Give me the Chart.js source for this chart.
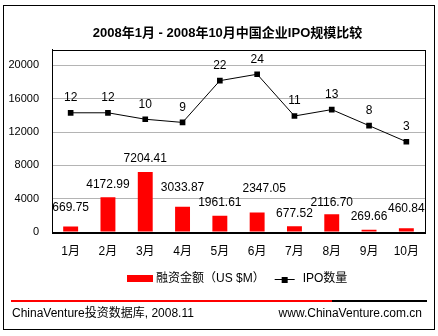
<!DOCTYPE html>
<html>
<head>
<meta charset="utf-8">
<title>IPO规模比较</title>
<script src="https://cdn.jsdelivr.net/npm/chart.js@4.4.1/dist/chart.umd.min.js"></script>
<style>
  body { margin: 0; background: #fff; }
  canvas { display: block; }
</style>
</head>
<body>
<canvas id="ipo-chart" width="438" height="336"></canvas>
<script>
// 2008年1-10月 中国企业IPO：融资金额（柱）与IPO数量（折线）
const months = ['1月', '2月', '3月', '4月', '5月', '6月', '7月', '8月', '9月', '10月'];
const amounts = [669.75, 4172.99, 7204.41, 3033.87, 1961.61, 2347.05, 677.52, 2116.70, 269.66, 460.84];
const ipoCounts = [12, 12, 10, 9, 22, 24, 11, 13, 8, 3];
const amountTicks = [0, 4000, 8000, 12000, 16000, 20000];

const FONT = "'Liberation Sans', Arial, 'Noto Sans CJK SC', sans-serif";
const TITLE = '2008年1月 - 2008年10月中国企业IPO规模比较';

// how far each amount label sits above its bar (some pushed up to stay clear)
const labelRaise = [19, 13, 13, 19, 13, 24, 13, 12, 13, 19];
const labelNudgeX = [0, 0, 0, 0, 0, 7, 0, 0, 0, 0];

const extras = {
    id: 'extras',
    afterDraw(chart) {
        const ctx = chart.ctx;
        const area = chart.chartArea;
        ctx.save();

        // title
        ctx.fillStyle = '#000';
        ctx.font = 'bold 13px ' + FONT;
        ctx.textAlign = 'center';
        ctx.textBaseline = 'middle';
        ctx.fillText(TITLE, 227.5, 33);

        // plot frame (top + right; axes draw left + bottom)
        ctx.strokeStyle = '#000';
        ctx.lineWidth = 1;
        ctx.strokeRect(Math.round(area.left) + 0.5, Math.round(area.top) + 0.5,
            Math.round(area.right - area.left), Math.round(area.bottom - area.top));

        ctx.font = '12px ' + FONT;

        // amount labels
        chart.getDatasetMeta(0).data.forEach((bar, i) => {
            ctx.fillText(amounts[i].toFixed(2), bar.x + labelNudgeX[i], bar.y - labelRaise[i]);
        });

        // IPO count labels
        chart.getDatasetMeta(1).data.forEach((pt, i) => {
            ctx.fillText(String(ipoCounts[i]), pt.x, pt.y - 15);
        });

        // legend
        const barSet = chart.data.datasets[0];
        const lineSet = chart.data.datasets[1];
        const ly = 278.5;
        const w1 = ctx.measureText(barSet.label).width;
        const w2 = ctx.measureText(lineSet.label).width;
        const total = 26 + 3 + w1 + 10 + 20 + 8 + w2;
        let lx = Math.round(237 - total / 2);
        ctx.fillStyle = barSet.backgroundColor;
        ctx.fillRect(lx, ly - 3.5, 26, 7);
        lx += 29;
        ctx.fillStyle = '#000';
        ctx.textAlign = 'left';
        ctx.fillText(barSet.label, lx, ly);
        lx += w1 + 10;
        ctx.beginPath();
        ctx.moveTo(lx, Math.round(ly) + 0.5);
        ctx.lineTo(lx + 20, Math.round(ly) + 0.5);
        ctx.stroke();
        ctx.fillRect(lx + 7, Math.round(ly) - 2, 6, 6);
        lx += 28;
        ctx.fillText(lineSet.label, lx, ly);

        // footer rule + source
        ctx.fillStyle = '#ff0000';
        ctx.fillRect(11, 300, 321, 2);
        ctx.fillStyle = '#000';
        ctx.fillRect(332, 300, 95, 2);
        ctx.textAlign = 'left';
        ctx.fillText('ChinaVenture投资数据库, 2008.11', 12, 314);
        ctx.textAlign = 'right';
        ctx.fillText('www.ChinaVenture.com.cn', 422, 314);

        // outer border
        ctx.strokeRect(3.5, 5.5, 431, 324);
        ctx.restore();
    }
};

new Chart(document.getElementById('ipo-chart'), {
    type: 'bar',
    data: {
        labels: months,
        datasets: [{
            type: 'bar',
            label: '融资金额（US $M）',
            data: amounts,
            backgroundColor: '#ff0000',
            categoryPercentage: 1,
            barPercentage: 0.4,
            yAxisID: 'y',
            order: 2
        }, {
            type: 'line',
            label: 'IPO数量',
            data: ipoCounts,
            borderColor: '#000',
            borderWidth: 1,
            backgroundColor: '#000',
            pointStyle: 'rect',
            pointRadius: 4,
            pointBorderWidth: 0,
            tension: 0,
            yAxisID: 'y1',
            order: 1
        }]
    },
    options: {
        responsive: false,
        animation: false,
        devicePixelRatio: 1,
        layout: { padding: { left: 4, right: 13, top: 49.5, bottom: 74 } },
        plugins: {
            legend: { display: false },
            tooltip: { enabled: false },
            title: { display: false }
        },
        scales: {
            x: {
                grid: { display: false, drawTicks: false },
                border: { color: '#000', width: 1 },
                ticks: { color: '#000', padding: 12, font: { family: FONT, size: 12 } },
                afterFit(scale) { scale.height = 30; }
            },
            y: {
                min: 0,
                max: 21900,
                grid: { color: '#b4b4b4', drawTicks: false },
                border: { color: '#000', width: 1 },
                ticks: {
                    color: '#000',
                    padding: 13,
                    font: { family: FONT, size: 11 },
                    callback: v => String(v)
                },
                afterBuildTicks(scale) {
                    scale.ticks = amountTicks.map(v => ({ value: v }));
                },
                afterFit(scale) { scale.width = 48; }
            },
            y1: {
                display: false,
                min: -25.1,
                max: 31.7
            }
        }
    },
    plugins: [extras]
});
</script>
</body>
</html>
